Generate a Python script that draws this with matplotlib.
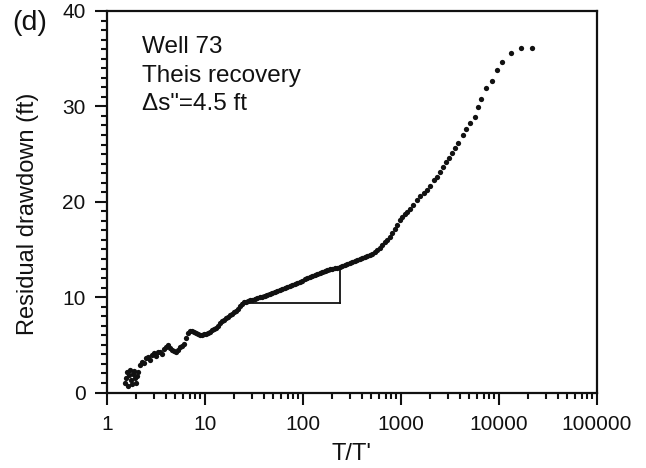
import numpy as np
import matplotlib
matplotlib.use("Agg")
from matplotlib import pyplot as plt
from matplotlib.ticker import FixedLocator, LogLocator, MultipleLocator, NullFormatter

# ── recovery data: T/T' and residual drawdown (ft) ──────────────────────────
T_RATIO = [
    1.527, 1.563, 1.600, 1.638, 1.677, 1.717, 1.757, 1.799, 1.842, 1.886,
    1.931, 1.977, 2.024, 2.072, 2.171, 2.276, 2.385, 2.500, 2.620, 2.747,
    2.879, 3.018, 3.162, 3.315, 3.474, 3.641, 3.816, 4.000, 4.193, 4.395,
    4.606, 4.828, 5.060, 5.304, 5.559, 5.827, 6.107, 6.401, 6.709, 7.032,
    7.370, 7.725, 8.096, 8.486, 8.895, 9.322, 9.771, 10.24, 10.73, 11.25,
    11.79, 12.36, 12.95, 13.58, 14.23, 14.91, 15.63, 16.38, 17.17, 17.99,
    18.86, 19.77, 20.72, 21.71, 22.76, 23.86, 25.00, 26.20, 27.47, 28.79,
    30.52, 32.37, 34.33, 36.41, 38.62, 40.95, 43.43, 46.06, 48.85, 51.81,
    54.95, 58.27, 61.80, 65.54, 69.50, 73.70, 78.17, 82.88, 87.88, 93.20,
    98.80, 104.8, 111.2, 117.9, 125.0, 132.6, 140.6, 149.1, 158.1, 167.7,
    177.8, 188.6, 200.0, 212.1, 224.9, 238.6, 252.9, 268.3, 284.4, 301.7,
    319.9, 339.3, 359.7, 381.6, 404.6, 429.2, 455.0, 482.7, 511.7, 542.8,
    575.4, 610.5, 647.1, 686.6, 727.8, 772.2, 818.5, 868.5, 920.5, 976.8,
    1035, 1099, 1164, 1236, 1326, 1457, 1563, 1717, 1842, 1977,
    2171, 2330, 2500, 2683, 2879, 3090, 3315, 3557, 3816, 4293,
    4607, 5060, 5690, 6107, 6550, 7370, 8486, 9541, 10730, 13260,
    16770, 21720,
]
DRAWDOWN = [
    0.99, 1.52, 2.15, 0.68, 1.83, 2.36, 1.31, 0.89, 1.94, 2.25,
    1.52, 0.99, 1.73, 2.15, 2.88, 3.19, 3.09, 3.61, 3.72, 3.40,
    3.93, 4.14, 3.82, 4.24, 4.24, 4.03, 4.55, 4.76, 4.97, 4.66,
    4.45, 4.35, 4.24, 4.45, 4.76, 4.87, 5.08, 5.71, 6.23, 6.44,
    6.44, 6.34, 6.23, 6.13, 6.02, 6.02, 6.13, 6.13, 6.23, 6.34,
    6.54, 6.65, 6.75, 6.96, 7.28, 7.49, 7.59, 7.80, 7.91, 8.12,
    8.22, 8.43, 8.53, 8.74, 9.06, 9.27, 9.48, 9.48, 9.58, 9.69,
    9.74, 9.79, 9.90, 10.00, 10.05, 10.10, 10.21, 10.31, 10.42, 10.52,
    10.63, 10.73, 10.84, 10.94, 11.05, 11.15, 11.26, 11.36, 11.47, 11.57,
    11.73, 11.88, 11.99, 12.09, 12.20, 12.30, 12.41, 12.51, 12.62, 12.72,
    12.83, 12.93, 12.98, 13.04, 13.09, 13.14, 13.25, 13.35, 13.46, 13.56,
    13.66, 13.77, 13.87, 13.98, 14.08, 14.19, 14.29, 14.40, 14.55, 14.71,
    14.92, 15.13, 15.45, 15.76, 16.02, 16.28, 16.70, 17.12, 17.59, 18.06,
    18.38, 18.69, 18.95, 19.21, 19.63, 20.16, 20.58, 20.89, 21.20, 21.62,
    22.25, 22.57, 23.09, 23.61, 24.14, 24.55, 25.08, 25.60, 26.13, 26.96,
    27.59, 28.22, 28.85, 29.90, 30.73, 31.88, 32.62, 33.77, 34.61, 35.55,
    36.07, 36.07,
]

# straight-line fit over one log cycle used to read the drawdown change
FIT_T = [24.0, 240.0]
FIT_S = [9.35, 13.1]

NOTE_LINES = ["Well 73", "Theis recovery", "\u0394s\"=4.5 ft"]
X_TICKS = [1, 10, 100, 1000, 10000, 100000]
X_TICK_LABELS = ["1", "10", "100", "1000", "10000", "100000"]
Y_TICKS = [0, 10, 20, 30, 40]

plt.rcParams["font.family"] = ["Liberation Sans", "DejaVu Sans"]
INK = "#111111"

fig = plt.figure(figsize=(6.46, 4.68), dpi=100)
ax = fig.add_axes([0.1656, 0.1613, 0.7585, 0.8152])

ax.plot(T_RATIO, DRAWDOWN, "o", color=INK, markersize=3.8,
        markeredgewidth=0, zorder=3)

# triangle: fitted line, horizontal base and vertical leg
ax.plot(FIT_T, FIT_S, "-", color=INK, linewidth=1.6, zorder=2)
ax.plot(FIT_T, [FIT_S[0], FIT_S[0]], "-", color=INK, linewidth=1.3, zorder=2)
ax.plot([FIT_T[1], FIT_T[1]], FIT_S, "-", color=INK, linewidth=1.3, zorder=2)

ax.set_xscale("log")
ax.set_xlim(1, 100000)
ax.set_ylim(0, 40)

ax.xaxis.set_major_locator(FixedLocator(X_TICKS))
ax.set_xticklabels(X_TICK_LABELS)
ax.xaxis.set_minor_locator(LogLocator(base=10, subs=np.arange(2, 10)))
ax.xaxis.set_minor_formatter(NullFormatter())
ax.yaxis.set_major_locator(FixedLocator(Y_TICKS))
ax.yaxis.set_minor_locator(MultipleLocator(1))

ax.tick_params(which="both", direction="out", top=False, right=False,
               color=INK, width=1.5, labelsize=15, labelcolor=INK)
ax.tick_params(which="major", length=8.5)
ax.tick_params(axis="x", which="major", pad=8)
ax.tick_params(axis="y", which="major", pad=7)
ax.tick_params(which="minor", length=4.5)
for sp in ax.spines.values():
    sp.set_linewidth(1.6)
    sp.set_color(INK)

ax.set_xlabel("T/T'", fontsize=17, color=INK, labelpad=6)
ax.set_ylabel("Residual drawdown (ft)", fontsize=17, color=INK)
ax.yaxis.set_label_coords(-0.138, 0.468)

for i, line in enumerate(NOTE_LINES):
    ax.text(0.0714, 0.889 - 0.0745 * i, line, transform=ax.transAxes,
            fontsize=17.5, color=INK, ha="left", va="baseline")

fig.text(0.046, 0.951, "(d)", fontsize=20.5, color=INK,
         ha="center", va="center")

fig.savefig("out.png", dpi=100)
